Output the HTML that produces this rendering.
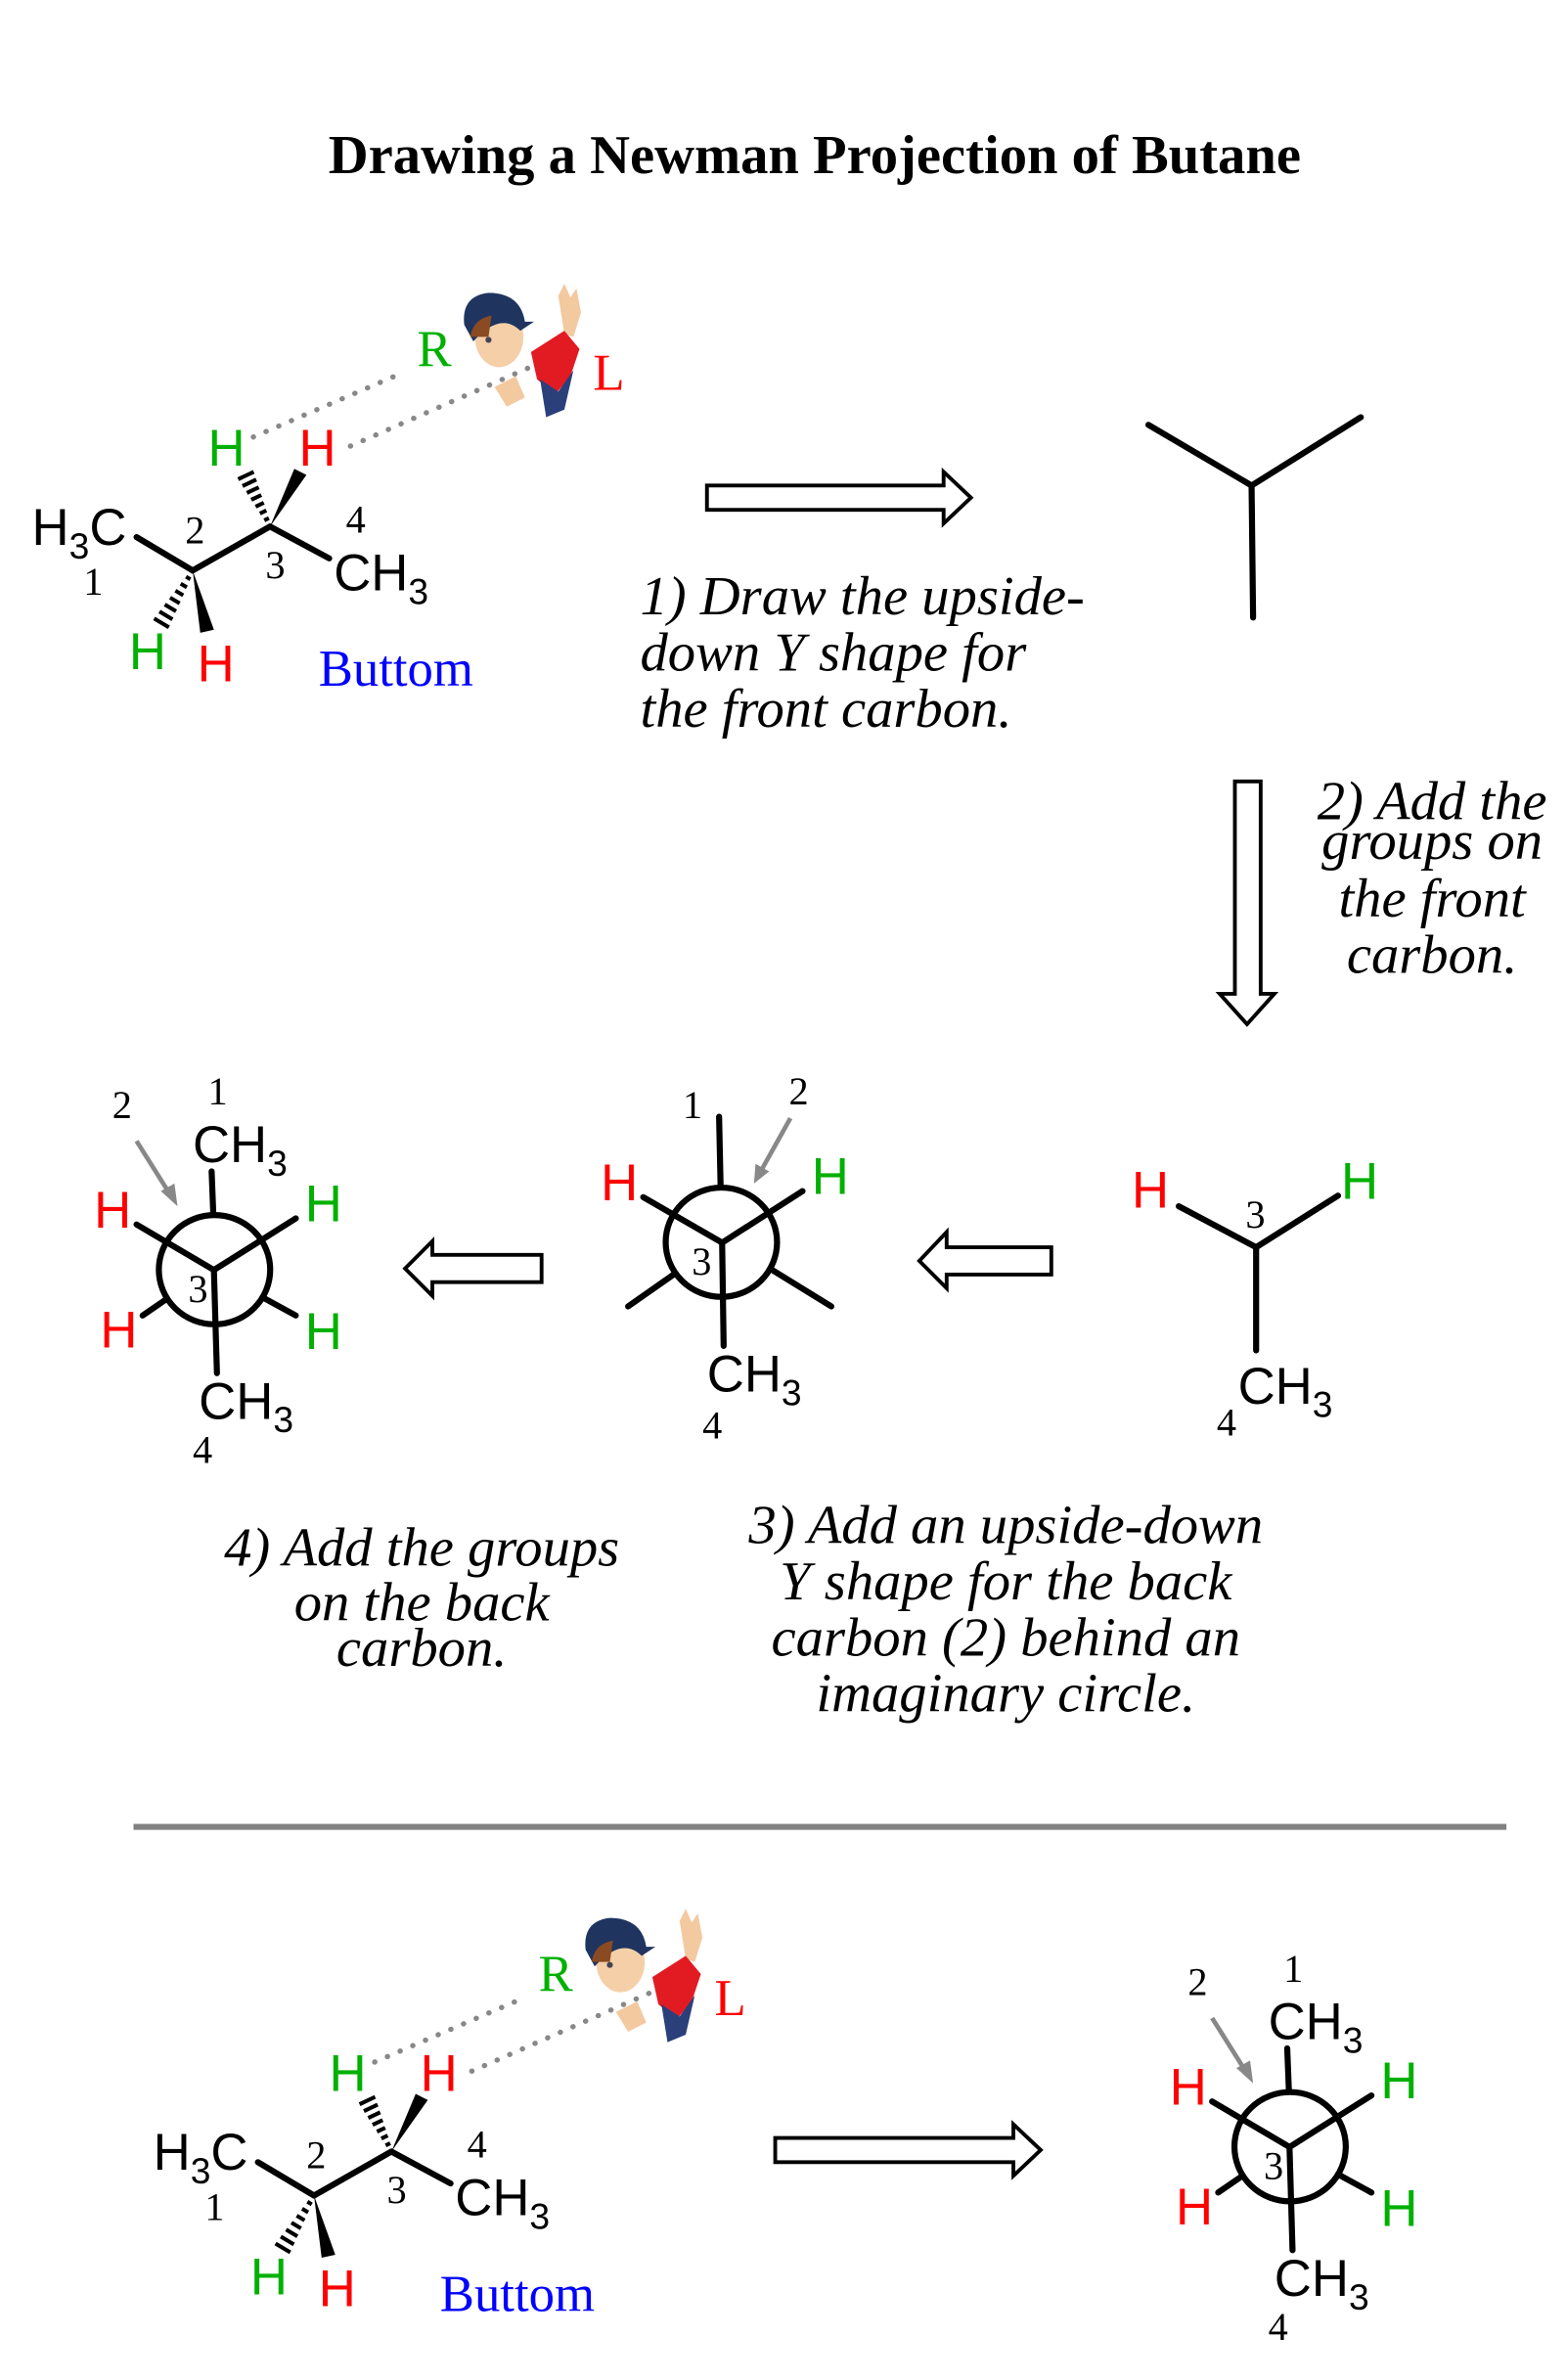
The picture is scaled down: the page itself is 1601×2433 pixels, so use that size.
<!DOCTYPE html>
<html><head><meta charset="utf-8"><style>
html,body{margin:0;padding:0;background:#fff;}
svg{display:block;}
.s{font-family:"Liberation Sans",sans-serif;font-size:34px;}
.n{font-family:"Liberation Serif",serif;font-size:26px;fill:#000;}
.sub{font-size:24px;}
.it{font-family:"Liberation Serif",serif;font-style:italic;font-size:36.5px;fill:#000;}
.b{stroke:#000;stroke-width:4;stroke-linecap:round;fill:none;}
.g{fill:#00b000;} .r{fill:#ff0000;}
.dot{stroke:#888;stroke-width:3.5;stroke-dasharray:0.1 9;stroke-linecap:round;fill:none;}
.arr{fill:#fff;stroke:#000;stroke-width:2.5;}
</style></head><body>
<svg width="1601" height="2433" viewBox="0 0 1024 1556" preserveAspectRatio="none" xmlns="http://www.w3.org/2000/svg">
<defs>
<g id="mol">
  <text class="s" x="21" y="359">H<tspan class="sub" dy="9">3</tspan><tspan dy="-9">C</tspan></text>
  <line class="b" x1="90" y1="354" x2="127" y2="376"/>
  <line class="b" x1="127" y1="376" x2="178" y2="347"/>
  <line class="b" x1="178" y1="347" x2="217" y2="368"/>
  <text class="s" x="220" y="389">CH<tspan class="sub" dy="9">3</tspan></text>
  <text class="n" x="122" y="358">2</text>
  <text class="n" x="55" y="392">1</text>
  <text class="n" x="175" y="381">3</text>
  <text class="n" x="228" y="351">4</text>
  <polygon points="178,347 194,309 202,313" fill="#000"/>
  <polygon points="127,376 132,417 141,415" fill="#000"/>
  <g id="hash1" stroke="#000" stroke-width="2.6"></g>
  <text class="s g" x="137" y="307">H</text>
  <text class="s r" x="197" y="307">H</text>
  <text class="s g" x="85" y="441">H</text>
  <text class="s r" x="130" y="449">H</text>
  <text x="210" y="452" style="font-family:'Liberation Serif',serif;font-size:34px;fill:#0000ff">Buttom</text>
  <text x="275" y="241" style="font-family:'Liberation Serif',serif;font-size:34px;fill:#00b000">R</text>
  <text x="391" y="257" style="font-family:'Liberation Serif',serif;font-size:34px;fill:#ff0000">L</text>
  <line class="dot" x1="167" y1="288" x2="267" y2="245"/>
  <line class="dot" x1="231" y1="294" x2="354" y2="240"/>
  <path d="M372,220 L368,195 L372,187 L376,196 L380,190 L383,206 L378,222 Z" fill="#f3c9a0"/>
  <path d="M350,232 L372,218 L382,230 L376,248 L366,260 L354,250 Z" fill="#e21b23"/>
  <path d="M356,250 L368,258 L378,244 L372,270 L360,275 Z" fill="#2b3f7a"/>
  <path d="M326,255 L340,248 L346,262 L334,268 Z" fill="#f3c9a0"/>
  <ellipse cx="329" cy="222" rx="16" ry="20" fill="#f5cfa8"/>
  <path d="M306,214 Q304,195 322,193 Q343,193 346,212 L352,212 L343,218 Q330,205 312,225 Z" fill="#1f3560"/>
  <path d="M310,222 Q312,210 324,208 L322,222 Z" fill="#8a4a22"/>
  <circle cx="322" cy="224" r="2" fill="#445"/>
</g>
<g id="newman">
  <ellipse cx="141.4" cy="836.8" rx="36.7" ry="36" fill="none" stroke="#000" stroke-width="4"/>
  <polyline class="b" points="90,807 141,837 195,803"/>
  <line class="b" x1="141" y1="837" x2="143" y2="905"/>
  <line class="b" x1="139.5" y1="772" x2="140.6" y2="800"/>
  <line class="b" x1="110" y1="856" x2="94" y2="867"/>
  <line class="b" x1="173" y1="855" x2="195" y2="867"/>
  <text class="s r" x="62" y="809">H</text>
  <text class="s g" x="201" y="805">H</text>
  <text class="s r" x="66" y="888">H</text>
  <text class="s g" x="201" y="889">H</text>
  <text class="s" x="127" y="766">CH<tspan class="sub" dy="9">3</tspan></text>
  <text class="n" x="137" y="728">1</text>
  <text class="n" x="74" y="737">2</text>
  <line x1="90" y1="752" x2="112" y2="787" stroke="#888" stroke-width="3"/>
  <polygon points="117,795 106,785 115,780" fill="#888"/>
  <text class="n" x="124" y="858">3</text>
  <text class="s" x="131" y="935">CH<tspan class="sub" dy="9">3</tspan></text>
  <text class="n" x="127" y="964">4</text>
</g>
</defs>

<g transform="scale(0.992)">
<text x="537" y="114" text-anchor="middle" style="font-family:'Liberation Serif',serif;font-weight:bold;font-size:36.5px">Drawing a Newman Projection of Butane</text>

<use href="#mol"/>
<use href="#mol" transform="translate(80,1071)"/>

<polyline class="b" points="757,280 825,320 897,275"/>
<line class="b" x1="825" y1="320" x2="826" y2="407"/>

<polygon class="arr" points="466,320 622,320 622,311 640,328 622,345 622,336 466,336"/>
<text class="it" x="422" y="405">1) Draw the upside-</text>
<text class="it" x="422" y="442">down Y shape for</text>
<text class="it" x="422" y="479">the front carbon.</text>

<polygon class="arr" points="814,515 831,515 831,655 840,655 822,675 804,655 814,655"/>
<text class="it" x="944" y="540" text-anchor="middle">2) Add the</text>
<text class="it" x="944" y="566" text-anchor="middle">groups on</text>
<text class="it" x="944" y="604" text-anchor="middle">the front</text>
<text class="it" x="944" y="641" text-anchor="middle">carbon.</text>

<polyline class="b" points="777,795 828,822 882,788"/>
<line class="b" x1="828" y1="822" x2="828" y2="890"/>
<text class="s r" x="746" y="796">H</text>
<text class="s g" x="884" y="790">H</text>
<text class="n" x="821" y="809">3</text>
<text class="s" x="816" y="925">CH<tspan class="sub" dy="9">3</tspan></text>
<text class="n" x="802" y="946">4</text>

<polygon class="arr" points="693,822 624,822 624,812 606,831 624,849 624,840 693,840"/>
<polygon class="arr" points="357,827 285,827 285,818 267,836 285,854 285,845 357,845"/>

<ellipse cx="475.5" cy="818.7" rx="36.7" ry="36" fill="none" stroke="#000" stroke-width="4"/>
<polyline class="b" points="424,789 476,819 529,785"/>
<line class="b" x1="476" y1="819" x2="477" y2="887"/>
<line class="b" x1="474" y1="736" x2="475" y2="782"/>
<line class="b" x1="444" y1="840" x2="414" y2="861"/>
<line class="b" x1="509" y1="837" x2="548" y2="861"/>
<text class="s r" x="396" y="791">H</text>
<text class="s g" x="535" y="787">H</text>
<text class="n" x="450" y="737">1</text>
<text class="n" x="520" y="728">2</text>
<line x1="521" y1="737" x2="502" y2="771" stroke="#888" stroke-width="3"/>
<polygon points="497,780 498,767 507,772" fill="#888"/>
<text class="n" x="456" y="840">3</text>
<text class="s" x="466" y="917">CH<tspan class="sub" dy="9">3</tspan></text>
<text class="n" x="463" y="948">4</text>

<use href="#newman"/>

<text class="it" x="278" y="1032" text-anchor="middle">4) Add the groups</text>
<text class="it" x="278" y="1068" text-anchor="middle">on the back</text>
<text class="it" x="278" y="1098" text-anchor="middle">carbon.</text>

<text class="it" x="663" y="1017" text-anchor="middle">3) Add an upside-down</text>
<text class="it" x="663" y="1054" text-anchor="middle">Y shape for the back</text>
<text class="it" x="663" y="1091" text-anchor="middle">carbon (2) behind an</text>
<text class="it" x="663" y="1128" text-anchor="middle">imaginary circle.</text>

<line x1="88" y1="1204" x2="993" y2="1204" stroke="#808080" stroke-width="4"/>

<polygon class="arr" points="511,1409 668,1409 668,1400 686,1417 668,1434 668,1425 511,1425"/>
<use href="#newman" transform="translate(709,578)"/>
</g>
</svg>
<script>
(function(){
  var ns="http://www.w3.org/2000/svg";
  var g=document.getElementById("hash1");
  function hash(x0,y0,x1,y1){
    var dx=x1-x0,dy=y1-y0,L=Math.hypot(dx,dy),px=-dy/L,py=dx/L;
    for(var i=1;i<=7;i++){
      var t=i/7.5,cx=x0+dx*t,cy=y0+dy*t,h=1+5*t;
      var l=document.createElementNS(ns,"line");
      l.setAttribute("x1",cx+px*h);l.setAttribute("y1",cy+py*h);
      l.setAttribute("x2",cx-px*h);l.setAttribute("y2",cy-py*h);
      g.appendChild(l);
    }
  }
  hash(178,347,161,311);
  hash(127,376,105,413);
})();
</script>
</body></html>
